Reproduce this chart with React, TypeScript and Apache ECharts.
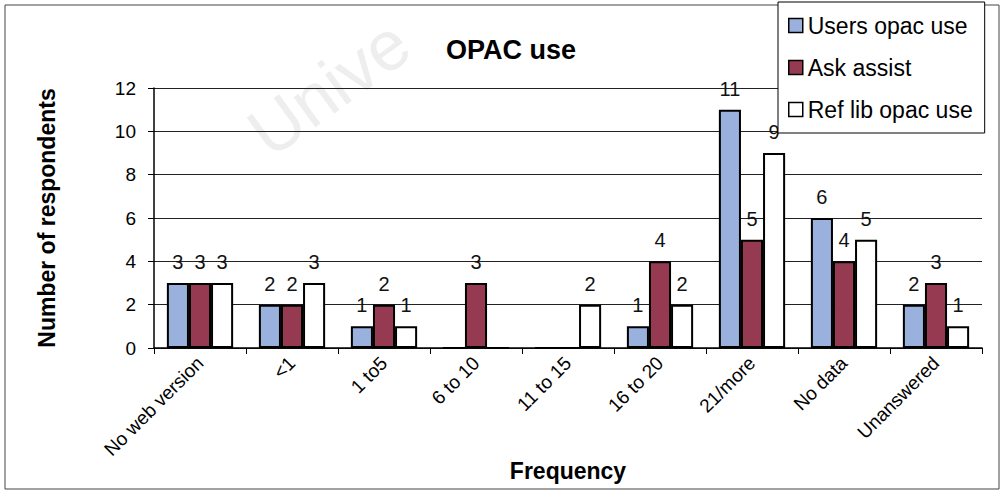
import React, { useEffect, useRef } from "react";
import * as echarts from "echarts";

const categories = ["No web version", "<1", "1 to5", "6 to 10", "11 to 15", "16 to 20", "21/more", "No data", "Unanswered"];
const usersOpacUse = [3, 2, 1, 0, 0, 1, 11, 6, 2];
const askAssist = [3, 2, 2, 3, 0, 4, 5, 4, 3];
const refLibOpacUse = [3, 3, 1, 0, 2, 2, 9, 5, 1];
const seriesNames = ["Users opac use", "Ask assist", "Ref lib opac use"];
const seriesColors = ["#9ab1de", "#963a52", "#ffffff"];

export default function App() {
  const ref = useRef<HTMLDivElement>(null);
  useEffect(() => {
    document.body.style.margin = "0";
    const chart = echarts.init(ref.current!, null, { renderer: "svg" });
    const font = "Liberation Sans, Arial, sans-serif";
    const mk = (name: string, data: number[], color: string) => ({
      name,
      type: "bar",
      data,
      barGap: "0%",
      barCategoryGap: "28%",
      itemStyle: { color, borderColor: "#000", borderWidth: 2 },
      label: {
        show: true,
        position: "top",
        distance: 11,
        fontSize: 20,
        fontFamily: font,
        color: "#111",
        formatter: (p: any) => (p.value === 0 ? "" : String(p.value)),
      },
    });
    chart.setOption({
      animation: false,
      backgroundColor: "#fff",
      title: {
        text: "OPAC use",
        left: 506,
        top: 31,
        textAlign: "center",
        textStyle: { fontSize: 27, fontWeight: "bold", fontFamily: font, color: "#000" },
      },
      graphic: [
        {
          type: "rect",
          shape: { x: 5, y: 5, width: 994, height: 484 },
          style: { fill: "none", stroke: "#444", lineWidth: 1 },
          silent: true,
          z: -10,
        },
        {
          type: "text",
          x: 236,
          y: 112,
          rotation: (36 * Math.PI) / 180,
          style: { text: "Unive", fontSize: 70, fontFamily: font, fill: "#eeeeee" },
          z: -5,
          silent: true,
        },
      ],
      legend: {
        orient: "vertical",
        left: 778,
        top: 2,
        width: 222,
        padding: [12, 12, 12, 10],
        itemGap: 19,
        itemWidth: 14,
        itemHeight: 14,
        icon: "rect",
        borderColor: "#000",
        borderWidth: 1,
        backgroundColor: "#fff",
        itemStyle: { borderColor: "#000", borderWidth: 1.5 },
        textStyle: { fontSize: 23, fontFamily: font, color: "#000" },
        data: seriesNames,
        z: 10,
      },
      grid: { left: 154, right: 22, top: 88, bottom: 146, outerBoundsMode: "none" },
      xAxis: {
        type: "category",
        data: categories,
        name: "Frequency",
        nameLocation: "middle",
        nameGap: 111,
        nameMoveOverlap: false,
        nameTextStyle: { fontSize: 23, fontWeight: "bold", fontFamily: font, color: "#000" },
        axisLine: { lineStyle: { color: "#000", width: 1.5 } },
        axisTick: { show: true, alignWithLabel: false, length: 6, lineStyle: { color: "#000" } },
        axisLabel: { rotate: 45, fontSize: 19, fontFamily: font, color: "#000", margin: 12 },
      },
      yAxis: {
        type: "value",
        min: 0,
        max: 12,
        interval: 2,
        name: "Number of respondents",
        nameLocation: "middle",
        nameGap: 96,
        nameTextStyle: { fontSize: 23, fontWeight: "bold", fontFamily: font, color: "#000" },
        axisLine: { show: true, lineStyle: { color: "#000", width: 1.5 } },
        axisTick: { show: true, length: 6, lineStyle: { color: "#000" } },
        axisLabel: { fontSize: 19, fontFamily: font, color: "#000", margin: 18 },
        splitLine: { show: true, lineStyle: { color: "#222", width: 1 } },
      },
      series: [
        mk(seriesNames[0], usersOpacUse, seriesColors[0]),
        mk(seriesNames[1], askAssist, seriesColors[1]),
        mk(seriesNames[2], refLibOpacUse, seriesColors[2]),
      ],
    });
    return () => chart.dispose();
  }, []);
  return <div ref={ref} style={{ width: 1004, height: 494 }} />;
}
